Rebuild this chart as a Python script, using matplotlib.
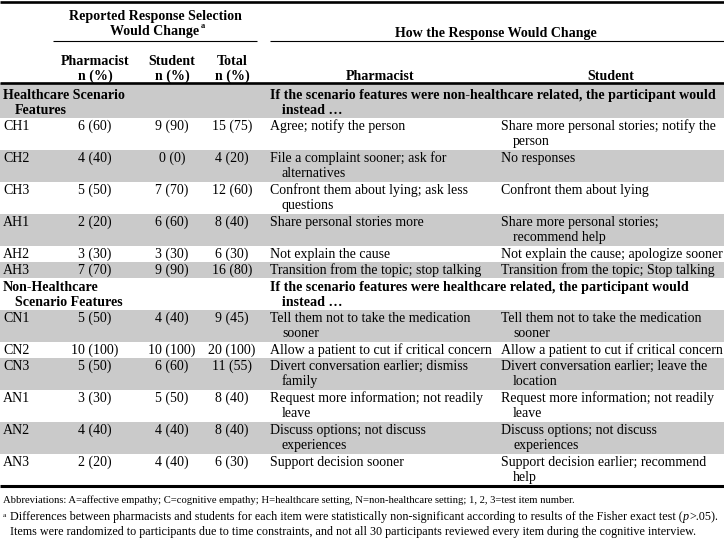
import matplotlib.pyplot as plt
from matplotlib.patches import Rectangle

plt.rcParams['font.family'] = ['Liberation Serif', 'DejaVu Serif']

# ---- table data ----
items = ["CH1", "CH2", "CH3", "AH1", "AH2", "AH3",
         "CN1", "CN2", "CN3", "AN1", "AN2", "AN3"]
pharm_n = [6, 4, 5, 2, 3, 7, 5, 10, 5, 3, 4, 2]
pharm_pct = [60, 40, 50, 20, 30, 70, 50, 100, 50, 30, 40, 20]
student_n = [9, 0, 7, 6, 3, 9, 4, 10, 6, 5, 4, 4]
student_pct = [90, 0, 70, 60, 30, 90, 40, 100, 60, 50, 40, 40]
total_n = [15, 4, 12, 8, 6, 16, 9, 20, 11, 8, 8, 6]
total_pct = [75, 20, 60, 40, 30, 80, 45, 100, 55, 40, 40, 30]

pharm_resp = [
    "Agree; notify the person",
    "File a complaint sooner; ask for\nalternatives",
    "Confront them about lying; ask less\nquestions",
    "Share personal stories more",
    "Not explain the cause",
    "Transition from the topic; stop talking",
    "Tell them not to take the medication\nsooner",
    "Allow a patient to cut if critical concern",
    "Divert conversation earlier; dismiss\nfamily",
    "Request more information; not readily\nleave",
    "Discuss options; not discuss\nexperiences",
    "Support decision sooner",
]
student_resp = [
    "Share more personal stories; notify the\nperson",
    "No responses",
    "Confront them about lying",
    "Share more personal stories;\nrecommend help",
    "Not explain the cause; apologize sooner",
    "Transition from the topic; Stop talking",
    "Tell them not to take the medication\nsooner",
    "Allow a patient to cut if critical concern",
    "Divert conversation earlier; leave the\nlocation",
    "Request more information; not readily\nleave",
    "Discuss options; not discuss\nexperiences",
    "Support decision earlier; recommend\nhelp",
]

sections = [
    ("Healthcare Scenario\nFeatures",
     "If the scenario features were non-healthcare related, the participant would\ninstead \u2026", 0, 6),
    ("Non-Healthcare\nScenario Features",
     "If the scenario features were healthcare related, the participant would\ninstead \u2026", 6, 12),
]

footnote1 = ("Abbreviations: A=affective empathy; C=cognitive empathy; H=healthcare setting, "
             "N=non-healthcare setting; 1, 2, 3=test item number.")
footnote2 = ["Differences between pharmacists and students for each item were statistically "
             "non-significant according to results of the Fisher exact test (", "p", ">.05)."]
footnote3 = ("Items were randomized to participants due to time constraints, and not all 30 "
             "participants reviewed every item during the cognitive interview.")

FS = 10.0
FS_BOLD = 10.1
FS_NOTE = 8.7
GRAY = "#cacaca"
X_ITEM, X_PH, X_ST, X_TOT = 3, 95, 172, 232
X_RP, X_RS = 270, 501
INDENT = 12
PITCH = 15

fig = plt.figure(figsize=(7.24, 5.52), dpi=100)
ax = fig.add_axes([0, 0, 1, 1])
ax.set_xlim(0, 724)
ax.set_ylim(552, 0)
ax.axis('off')


def cell(x, y, s, bold=False, ha='left'):
    for k, line in enumerate(s.split("\n")):
        xx = x + (INDENT if k > 0 and ha == 'left' else 0)
        ax.text(xx, y + k * PITCH, line, fontsize=FS_BOLD if bold else FS, ha=ha,
                va='baseline', fontweight='bold' if bold else 'normal')


# ---- header ----
ax.plot([0, 724], [2, 2], color='black', lw=1.9, solid_capstyle='butt')
ax.text(155, 20, "Reported Response Selection", fontsize=FS_BOLD, ha='center', va='baseline', fontweight='bold')
wc = ax.text(155, 35, "Would Change", fontsize=FS_BOLD, ha='center', va='baseline', fontweight='bold')
ax.text(496, 37, "How the Response Would Change", fontsize=FS_BOLD, ha='center', va='baseline', fontweight='bold')
ax.plot([53, 257], [41, 41], color='black', lw=0.8, solid_capstyle='butt')
ax.plot([270, 724], [41, 41], color='black', lw=0.8, solid_capstyle='butt')
for xc, lab in [(X_PH, "Pharmacist"), (X_ST, "Student"), (X_TOT, "Total")]:
    ax.text(xc, 65, lab, fontsize=FS_BOLD, ha='center', va='baseline', fontweight='bold')
    ax.text(xc, 80, "n (%)", fontsize=FS_BOLD, ha='center', va='baseline', fontweight='bold')
ax.text(380, 80, "Pharmacist", fontsize=FS_BOLD, ha='center', va='baseline', fontweight='bold')
ax.text(611, 80, "Student", fontsize=FS_BOLD, ha='center', va='baseline', fontweight='bold')

# ---- body ----
y = 83
shade = True
for left_lab, right_lab, i0, i1 in sections:
    first = y == 83
    h = 35 if first else 32
    if shade:
        ax.add_patch(Rectangle((0, y), 724, h, color=GRAY, lw=0, zorder=0))
    shade = not shade
    off = 16 if first else 13
    cell(X_ITEM, y + off, left_lab, bold=True)
    cell(X_RP, y + off, right_lab, bold=True)
    y += h
    for i in range(i0, i1):
        nl = max(pharm_resp[i].count("\n"), student_resp[i].count("\n")) + 1
        h = 16 if nl == 1 else 32
        if shade:
            ax.add_patch(Rectangle((0, y), 724, h, color=GRAY, lw=0, zorder=0))
        shade = not shade
        base = y + 12
        cell(X_ITEM, base, items[i])
        cell(X_PH, base, f"{pharm_n[i]} ({pharm_pct[i]})", ha='center')
        cell(X_ST, base, f"{student_n[i]} ({student_pct[i]})", ha='center')
        cell(X_TOT, base, f"{total_n[i]} ({total_pct[i]})", ha='center')
        cell(X_RP, base, pharm_resp[i])
        cell(X_RS, base, student_resp[i])
        y += h

ax.plot([0, 724], [83, 83], color='black', lw=1.9, solid_capstyle='butt')
ax.plot([0, 724], [y, y], color='black', lw=2.2, solid_capstyle='butt')

# ---- footnotes ----
fig.canvas.draw()
r = fig.canvas.get_renderer()
bb = wc.get_window_extent(r)
ax.text(bb.x1 + 1, 28, "a", fontsize=FS * 0.6, ha='left', va='baseline', fontweight='bold')

ax.text(3, y + 17, footnote1, fontsize=7.7, ha='left', va='baseline')
ax.text(3, y + 31, "a", fontsize=FS_NOTE * 0.6, ha='left', va='baseline')
xx = 10
for k, piece in enumerate(footnote2):
    t = ax.text(xx, y + 34, piece, fontsize=FS_NOTE, ha='left', va='baseline',
                fontstyle='italic' if k == 1 else 'normal')
    xx = t.get_window_extent(r).x1 + 0.5
ax.text(10, y + 49, footnote3, fontsize=FS_NOTE, ha='left', va='baseline')

plt.savefig("out.png", dpi=100)
plt.close()
